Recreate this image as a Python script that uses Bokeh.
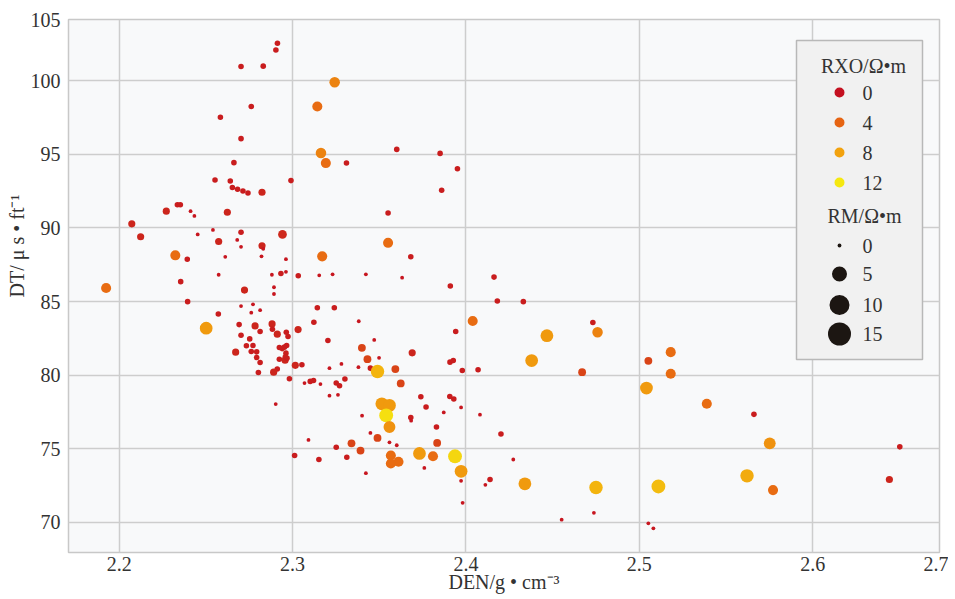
import numpy as np
from bokeh.plotting import figure
from bokeh.models import Range1d, FixedTicker, LinearColorMapper, ColumnDataSource, Title
from bokeh.core.properties import value
from bokeh.embed import file_html
from bokeh.resources import INLINE

# ---------------- data ----------------
den = [
    2.2913, 2.2904, 2.2703, 2.2831, 2.2762, 2.2584, 2.2703, 2.2662, 2.2553, 2.2641,
    2.2991, 2.2653, 2.2683, 2.2714, 2.2743, 2.2824, 2.2272, 2.2336, 2.2353, 2.2412,
    2.2434, 2.2624, 2.2073, 2.2124, 2.2453, 2.2541, 2.2574, 2.2681, 2.2703, 2.2703,
    2.2824, 2.2831, 2.2942, 2.2324, 2.2393, 2.2612, 2.2821, 2.2962, 2.2355, 2.2574,
    2.2881, 2.2933, 2.2962, 2.2893, 2.2893, 2.2723, 2.3033, 2.3154, 2.1925, 2.3243,
    2.3143, 2.3164, 2.3192, 2.3311, 2.3601, 2.3851, 2.3951, 2.3860, 2.3551, 2.3551,
    2.3171, 2.3682, 2.3231, 2.3423, 2.3632, 2.3910, 2.4162, 2.4181, 2.4331, 2.4039,
    2.3143, 2.3241, 2.3123, 2.3382, 2.3941, 2.3204, 2.3471, 2.3400, 2.3690, 2.3432,
    2.3499, 2.3908, 2.3927, 2.4467, 2.4379, 2.4732, 2.4759, 2.4670, 2.3054, 2.3213,
    2.3282, 2.3380, 2.3449, 2.3490, 2.3593, 2.3979, 2.4070, 2.3069, 2.3102, 2.3121,
    2.3161, 2.3252, 2.3271, 2.3302, 2.3624, 2.3213, 2.3262, 2.3740, 2.3907, 2.3930,
    2.3972, 2.3770, 2.4081, 2.3872, 2.3515, 2.3559, 2.3540, 2.3559, 2.3401, 2.3682,
    2.3684, 2.3830, 2.3449, 2.3490, 2.3559, 2.3601, 2.3092, 2.3252, 2.3340, 2.3392,
    2.3313, 2.3152, 2.3834, 2.4202, 2.3567, 2.3611, 2.3567, 2.3732, 2.3810, 2.3937,
    2.3972, 2.3760, 2.3423, 2.3972, 2.4139, 2.4112, 2.4273, 2.3981, 2.4340, 2.4552,
    2.4750, 2.4738, 2.5052, 2.5181, 2.5181, 2.5041, 2.5389, 2.5661, 2.5752, 2.6502,
    2.5621, 2.5771, 2.6442, 2.5110, 2.5052, 2.5081, 2.2703, 2.2772, 2.2572, 2.2762,
    2.2813, 2.2502, 2.2692, 2.2784, 2.2882, 2.2884, 2.2813, 2.2912, 2.2964, 2.2974,
    2.3032, 2.2703, 2.2753, 2.2734, 2.2772, 2.2672, 2.2762, 2.2793, 2.2793, 2.2813,
    2.2924, 2.2940, 2.2953, 2.2966, 2.2962, 2.2924, 2.2957, 2.2968, 2.2958, 2.3016,
    2.2912, 2.2891, 2.2803, 2.2982, 2.2903, 2.2395, 2.3012,
]

dt = [
    102.55, 102.10, 100.97, 101.00, 98.26, 97.53, 96.07, 94.44, 93.26, 93.19,
    93.22, 92.75, 92.63, 92.51, 92.38, 92.43, 91.14, 91.58, 91.58, 91.14,
    90.82, 91.07, 90.28, 89.40, 89.56, 89.87, 89.08, 89.19, 89.71, 88.72,
    88.79, 88.58, 89.56, 88.14, 87.87, 88.04, 88.07, 87.88, 86.35, 86.82,
    86.82, 86.91, 87.02, 85.97, 85.51, 85.78, 86.75, 86.78, 85.92, 99.90,
    98.26, 95.09, 94.41, 94.41, 95.34, 95.07, 94.03, 92.56, 91.02, 88.99,
    88.07, 88.04, 86.85, 86.85, 86.62, 86.05, 86.66, 85.04, 84.99, 83.68,
    84.58, 84.58, 83.59, 83.66, 82.96, 82.35, 82.39, 81.85, 81.51, 81.08,
    81.17, 80.88, 80.99, 82.68, 80.99, 83.57, 82.91, 80.20, 80.70, 80.47,
    80.76, 80.54, 80.47, 80.24, 80.41, 80.31, 80.36, 79.46, 79.57, 79.63,
    79.39, 79.46, 79.27, 79.73, 79.43, 78.60, 78.66, 78.53, 78.55, 78.37,
    77.80, 77.83, 77.31, 77.46, 78.05, 77.94, 77.26, 76.47, 77.24, 77.12,
    76.90, 76.47, 76.07, 75.73, 75.43, 75.23, 75.59, 75.09, 75.36, 74.87,
    74.41, 74.26, 75.39, 76.00, 74.53, 74.11, 73.99, 74.67, 74.48, 74.48,
    73.46, 73.69, 73.33, 72.81, 72.90, 72.54, 74.26, 71.32, 72.61, 70.17,
    72.36, 70.64, 80.97, 81.56, 80.09, 79.12, 78.05, 77.33, 75.36, 75.12,
    73.15, 72.18, 72.90, 72.43, 69.92, 69.58, 84.69, 84.81, 84.15, 84.24,
    84.41, 83.19, 83.43, 83.34, 83.48, 83.12, 82.96, 82.78, 82.91, 82.62,
    83.09, 82.71, 82.46, 81.99, 82.01, 81.56, 81.60, 81.58, 81.19, 80.85,
    81.87, 81.80, 81.90, 82.01, 81.49, 81.08, 81.01, 81.15, 81.22, 80.66,
    80.41, 80.20, 80.18, 79.75, 78.03, 84.99, 74.53,
]

rxo = [
    0.6, 0.6, 0.6, 0.6, 0.6, 0.6, 0.6, 0.6, 0.6, 0.6,
    0.6, 0.6, 0.6, 0.6, 0.6, 1.0, 1.0, 0.6, 0.6, 0.3,
    0.3, 1.0, 1.0, 1.0, 0.3, 0.3, 1.0, 0.3, 0.6, 0.3,
    1.0, 0.3, 1.2, 4.5, 0.6, 0.3, 0.3, 0.3, 0.6, 0.3,
    0.3, 0.6, 0.3, 0.3, 0.3, 1.0, 0.6, 0.3, 4.5, 6.0,
    4.5, 6.0, 4.5, 0.6, 0.6, 0.6, 0.6, 0.6, 0.6, 4.5,
    4.5, 0.6, 0.3, 0.3, 0.3, 0.6, 0.6, 0.6, 0.6, 4.5,
    0.6, 0.6, 0.6, 0.3, 0.6, 0.6, 0.3, 2.5, 1.0, 2.5,
    0.3, 0.6, 0.6, 7.5, 7.5, 0.6, 6.0, 2.5, 0.6, 0.3,
    0.3, 0.3, 0.6, 9.0, 2.5, 0.6, 0.6, 0.3, 0.6, 0.6,
    0.3, 0.6, 0.6, 0.6, 2.5, 0.3, 0.3, 0.6, 0.6, 0.6,
    0.3, 0.6, 0.3, 0.3, 7.5, 7.5, 11.5, 7.0, 0.3, 0.6,
    0.3, 0.6, 0.3, 2.5, 0.3, 0.3, 0.3, 0.6, 2.5, 2.5,
    0.6, 0.6, 2.5, 0.6, 4.5, 4.5, 4.5, 7.5, 4.5, 11.0,
    7.5, 0.3, 0.3, 0.3, 0.6, 0.3, 0.3, 0.3, 7.5, 0.3,
    9.0, 0.3, 2.5, 4.5, 4.5, 7.5, 4.5, 0.6, 7.0, 0.6,
    8.5, 4.5, 1.0, 9.5, 0.3, 0.3, 0.3, 0.3, 0.6, 0.3,
    0.3, 7.5, 0.6, 1.0, 1.0, 0.6, 0.6, 1.0, 0.6, 0.6,
    1.0, 0.6, 0.6, 0.6, 0.6, 1.0, 0.6, 0.6, 0.6, 0.6,
    0.6, 0.6, 0.6, 0.6, 0.6, 0.6, 1.0, 0.6, 0.6, 1.0,
    0.6, 1.0, 0.6, 0.6, 0.3, 0.6, 0.6,
]

rm = [
    0.8, 0.8, 0.8, 0.8, 0.8, 0.8, 0.8, 0.8, 0.8, 0.8,
    0.8, 0.8, 0.8, 0.8, 0.8, 1.5, 1.5, 0.8, 0.8, 0.0,
    0.0, 1.5, 1.5, 1.5, 0.0, 0.0, 1.5, 0.0, 0.8, 0.0,
    1.5, 0.0, 2.2, 2.8, 0.8, 0.0, 0.0, 0.0, 0.8, 0.0,
    0.0, 0.8, 0.0, 0.0, 0.0, 1.5, 0.8, 0.0, 2.8, 3.0,
    2.8, 3.0, 2.8, 0.8, 0.8, 0.8, 0.8, 0.8, 0.8, 2.8,
    2.8, 0.8, 0.0, 0.0, 0.0, 0.8, 0.8, 0.8, 0.8, 2.8,
    0.8, 0.8, 0.8, 0.0, 0.8, 0.8, 0.0, 1.8, 1.5, 1.8,
    0.0, 0.8, 0.8, 4.0, 4.0, 0.8, 3.0, 1.8, 0.8, 0.0,
    0.0, 0.0, 0.8, 4.3, 1.8, 0.8, 0.8, 0.0, 0.8, 0.8,
    0.0, 0.8, 0.8, 0.8, 1.8, 0.0, 0.0, 0.8, 0.8, 0.8,
    0.0, 0.8, 0.0, 0.0, 4.0, 4.0, 4.5, 3.6, 0.0, 0.8,
    0.0, 0.8, 0.0, 1.8, 0.0, 0.0, 0.0, 0.8, 1.8, 1.8,
    0.8, 0.8, 1.8, 0.8, 2.8, 2.8, 2.8, 4.0, 2.8, 4.5,
    4.0, 0.0, 0.0, 0.0, 0.8, 0.0, 0.0, 0.0, 4.0, 0.0,
    4.3, 0.0, 1.8, 2.8, 2.8, 4.0, 2.8, 0.8, 3.6, 0.8,
    4.3, 2.8, 1.5, 4.5, 0.0, 0.0, 0.0, 0.0, 0.8, 0.0,
    0.0, 4.0, 0.8, 1.5, 1.5, 0.8, 0.8, 1.5, 0.8, 0.8,
    1.5, 0.8, 0.8, 0.8, 0.8, 1.5, 0.8, 0.8, 0.8, 0.8,
    0.8, 0.8, 0.8, 0.8, 0.8, 0.8, 1.5, 0.8, 0.8, 1.5,
    0.8, 1.5, 0.8, 0.8, 0.0, 0.8, 0.8,
]

x_tick_labels = ["2.2", "2.3", "2.4", "2.5", "2.6", "2.7"]
y_tick_labels = ["70", "75", "80", "85", "90", "95", "100", "105"]
legend_rxo = [0, 4, 8, 12]
legend_rm = [0, 5, 10, 15]
x_title = "DEN/g • cm⁻³"
y_title = "DT/ μ s • ft⁻¹"
rxo_title = "RXO/Ω•m"
rm_title = "RM/Ω•m"

# ---------------- styling / layout ----------------
X_START, X_END = 2.1708, 2.6731
Y_START, Y_END = 67.94, 104.17
x_tick_pos = [2.2, 2.3, 2.4, 2.5, 2.6, X_END]
y_tick_pos = [70, 75, 80, 85, 90, 95, 100, Y_END]

FONT = "'Liberation Serif', 'Times New Roman', serif"
TXT = "#333333"
W, H = 948, 598
BL, BR, BT, BB = 68, 9, 19, 46
FW, FH = W - BL - BR, H - BT - BB

# colour scale for RXO
stops_v = [0, 4, 8, 12]
stops_c = [(196, 16, 32), (230, 100, 18), (242, 162, 14), (245, 232, 16)]
palette = []
for i in range(121):
    v = i * 0.1
    r = int(round(np.interp(v, stops_v, [c[0] for c in stops_c])))
    g = int(round(np.interp(v, stops_v, [c[1] for c in stops_c])))
    b = int(round(np.interp(v, stops_v, [c[2] for c in stops_c])))
    palette.append("#%02x%02x%02x" % (r, g, b))
mapper = LinearColorMapper(palette=palette, low=0, high=12)

# size scale for RM
size_rm = [0, 5, 10, 15]
size_px = [3.8, 15, 20, 23]

p = figure(width=W, height=H,
           x_range=Range1d(X_START, X_END), y_range=Range1d(Y_START, Y_END),
           output_backend="svg", toolbar_location=None,
           min_border_left=BL, min_border_right=BR,
           min_border_top=BT, min_border_bottom=BB,
           background_fill_color="#f8f9fa", border_fill_color="white",
           outline_line_color="#c8c8c8", outline_line_width=1.5)

for ax, pos, labs in ((p.xaxis[0], x_tick_pos, x_tick_labels),
                      (p.yaxis[0], y_tick_pos, y_tick_labels)):
    ax.ticker = FixedTicker(ticks=pos)
    ax.major_label_overrides = {t: l for t, l in zip(pos, labs)}
    ax.axis_line_color = None
    ax.major_tick_line_color = None
    ax.minor_tick_line_color = None
    ax.major_tick_out = 0
    ax.major_tick_in = 0
    ax.minor_tick_out = 0
    ax.minor_tick_in = 0
    ax.major_label_text_font = FONT
    ax.major_label_text_font_size = "20px"
    ax.major_label_text_color = TXT
p.xaxis.major_label_standoff = 4
p.yaxis.major_label_standoff = 8

# x-axis title
p.xaxis.axis_label = x_title
p.xaxis.axis_label_text_font = FONT
p.xaxis.axis_label_text_font_size = "20px"
p.xaxis.axis_label_text_font_style = "normal"
p.xaxis.axis_label_text_color = TXT
p.xaxis.axis_label_standoff = -3

# y-axis title (left side panel, offset from bottom of frame)
p.add_layout(Title(text=y_title, align="left", offset=255, standoff=0,
                   text_font=FONT, text_font_size="20px", text_font_style="normal",
                   text_color=TXT), "left")

p.grid.grid_line_color = "#cdcdcd"
p.grid.grid_line_width = 1.5

src = ColumnDataSource(dict(den=den, dt=dt, rxo=rxo, rm=rm,
                            sz=np.interp(rm, size_rm, size_px)))
p.scatter("den", "dt", size="sz", source=src,
          fill_color={"field": "rxo", "transform": mapper}, line_color=None)

# ---------------- legend (frame-pixel coordinates) ----------------
p.extra_x_ranges = {"px": Range1d(0, FW)}
p.extra_y_ranges = {"py": Range1d(FH, 0)}
LX0, LX1, LY0, LY1 = 728, 854, 21, 340
p.quad(left=[LX0], right=[LX1], top=[LY0], bottom=[LY1],
       x_range_name="px", y_range_name="py",
       fill_color="#f1f1f1", line_color="#b8b8b8", line_width=1.5)

mx, tx, cx = 771, 794, 795
rxo_y = [73 + 30 * i for i in range(len(legend_rxo))]
rm_y = [226, 254.5, 285.5, 314.5]

leg_rxo_src = ColumnDataSource(dict(x=[mx] * len(legend_rxo), y=rxo_y, c=legend_rxo,
                                    t=[str(v) for v in legend_rxo],
                                    tx=[tx] * len(legend_rxo)))
leg_rm_src = ColumnDataSource(dict(x=[mx] * len(legend_rm), y=rm_y,
                                   s=list(np.interp(legend_rm, size_rm, size_px)),
                                   t=[str(v) for v in legend_rm],
                                   tx=[tx] * len(legend_rm)))

p.scatter("x", "y", size=10, source=leg_rxo_src,
          fill_color={"field": "c", "transform": mapper}, line_color=None,
          x_range_name="px", y_range_name="py")
p.scatter("x", "y", size="s", source=leg_rm_src,
          fill_color="#1c1612", line_color=None,
          x_range_name="px", y_range_name="py")

for s in (leg_rxo_src, leg_rm_src):
    p.text("tx", "y", text="t", source=s,
           text_font=value(FONT), text_font_size="20px", text_color=TXT,
           text_align="left", text_baseline="middle",
           x_range_name="px", y_range_name="py")
p.text(x=[cx, cx + 1], y=[46, 196], text=[rxo_title, rm_title],
       text_font=value(FONT), text_font_size="20px", text_color=TXT,
       text_align="center", text_baseline="middle",
       x_range_name="px", y_range_name="py")

open("out.html", "w").write(file_html(p, INLINE))
